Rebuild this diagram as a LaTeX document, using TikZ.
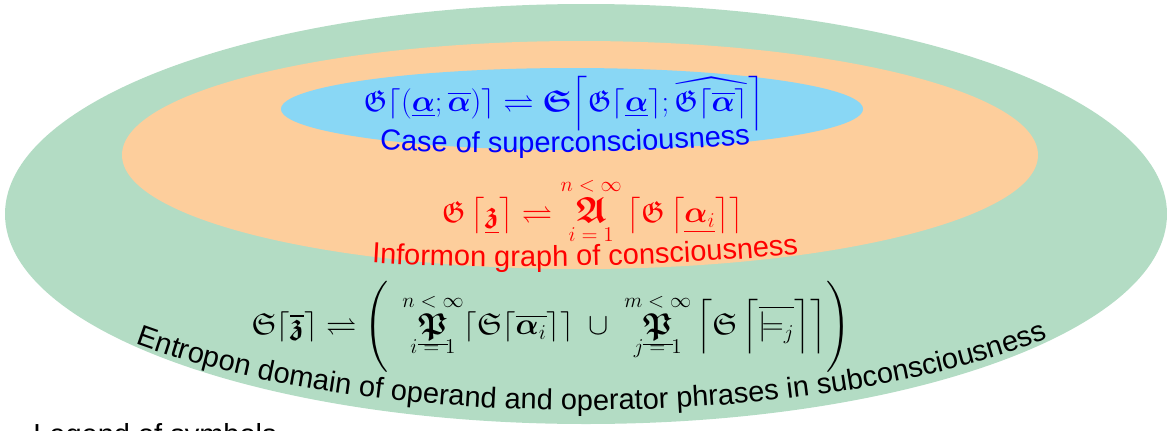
\documentclass[tikz,border=0pt]{standalone}
\usepackage{amsmath, amssymb}
\usepackage{fontspec}
\newfontfamily\labelfont{Liberation Sans}
\usepackage{tikz}
\usetikzlibrary{decorations.text}
\definecolor{superblue}{RGB}{137, 215, 245}
\definecolor{consorange}{RGB}{253, 206, 156}
\definecolor{subgreen}{RGB}{179, 220, 196}
\newcommand{\lblfont}{\labelfont\fontsize{16.5}{20}\selectfont}
\newcommand{\oplim}[1]{\mbox{\large$#1$}}
\tikzset{
    formula/.style={inner sep=0pt, font=\LARGE},
    arclabel/.style={decorate, decoration={text along path, text align=center, text color=#1}}
}

\begin{document}
\begin{tikzpicture}[x=0.02cm, y=-0.02cm]
    \useasboundingbox (0,0) rectangle (1167,430);

    % Region 1: subconsciousness
    \fill[subgreen] (586,214) ellipse [x radius=581, y radius=210];
    % Region 2: consciousness
    \fill[consorange] (580,155) ellipse [x radius=458, y radius=114];
    % Region 3: superconsciousness
    \fill[superblue] (572,109) ellipse [x radius=291, y radius=41];

    % Formula of superconsciousness
    \node[formula, text=blue] (supereq) at (564,104)
        {$\mathfrak{G}\lceil(\underline{\boldsymbol{\alpha}};\overline{\boldsymbol{\alpha}})\rceil \rightleftharpoons \boldsymbol{\mathfrak{S}}\!\left\lceil\mathfrak{G}\lceil\underline{\boldsymbol{\alpha}}\rceil;\widehat{\mathfrak{G}\lceil\overline{\boldsymbol{\alpha}}\rceil}\right\rceil$};
    \path[arclabel=blue, decoration={text={|\lblfont|Case of superconsciousness}}]
        (350,148) .. controls (470,156) and (660,154) .. (780,141);

    % Formula of consciousness
    \node[formula, text=red] (conseq) at (593,211)
        {$\displaystyle \mathfrak{G}\left\lceil\underline{\boldsymbol{\mathfrak{z}}}\right\rceil \rightleftharpoons \mathop{\mbox{\huge$\boldsymbol{\mathfrak{A}}$}}\limits_{\oplim{i=1}}^{\oplim{n<\infty}}\left\lceil\mathfrak{G}\left\lceil\underline{\boldsymbol{\alpha}_i}\right\rceil\right\rceil$};
    \path[arclabel=red, decoration={text={|\lblfont|Informon graph of consciousness}}]
        (345,261) .. controls (470,271) and (690,267) .. (825,251);

    % Formula of subconsciousness
    \node[formula] (subeq) at (551,327)
        {$\displaystyle \mathfrak{S}\lceil\overline{\boldsymbol{\mathfrak{z}}}\rceil \rightleftharpoons \left(\rule[-21pt]{0pt}{50pt}\;\mathop{\smash[b]{\underline{\boldsymbol{\mathfrak{P}}}}}\limits_{\oplim{i=1}}^{\oplim{n<\infty}}\lceil\mathfrak{S}\lceil\overline{\boldsymbol{\alpha}_i}\rceil\rceil \;\cup\; \mathop{\smash[b]{\underline{\boldsymbol{\mathfrak{P}}}}}\limits_{\oplim{j=1}}^{\oplim{m<\infty}}\left\lceil\mathfrak{S}\left\lceil\overline{\models_j}\right\rceil\right\rceil\right)$};
    \path[arclabel=black, decoration={text={|\lblfont|Entropon domain of operand and operator phrases in subconsciousness}}]
        (585,214) ++(142:600 and 196) arc[start angle=142, end angle=36, x radius=600, y radius=196];

    % Legend
    \node[anchor=base west, inner sep=0pt, font=\lblfont] (legend) at (33,444) {Legend of symbols};
\end{tikzpicture}
\end{document}
